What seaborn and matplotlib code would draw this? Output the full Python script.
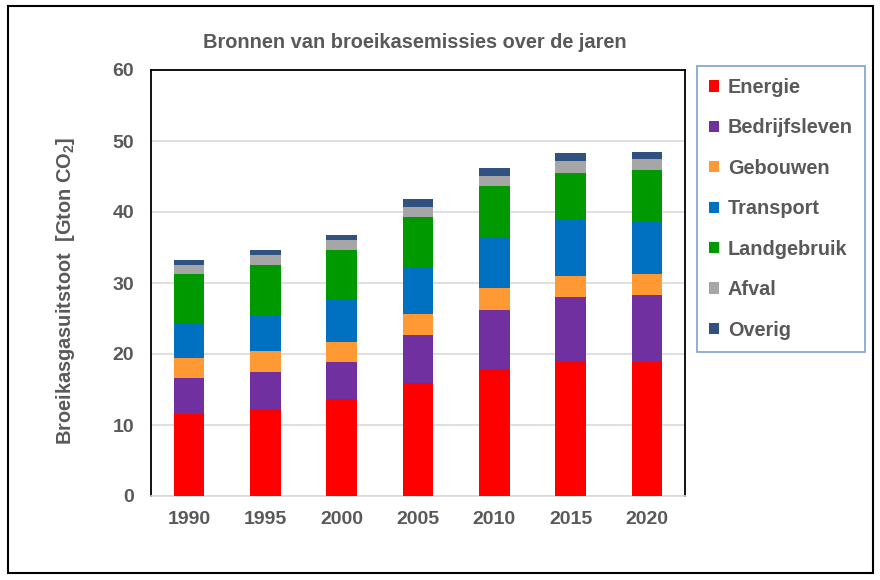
import numpy as np
import matplotlib
matplotlib.use("Agg")
import matplotlib.pyplot as plt
import seaborn as sns
import pandas as pd
from matplotlib.patches import Patch, Rectangle

# data (Gton CO2)
years = ["1990", "1995", "2000", "2005", "2010", "2015", "2020"]
sectors = ["Energie", "Bedrijfsleven", "Gebouwen", "Transport", "Landgebruik", "Afval", "Overig"]
energie = [11.6, 12.2, 13.6, 15.9, 17.9, 19.0, 18.9]
bedrijfsleven = [5.0, 5.2, 5.3, 6.8, 8.3, 9.0, 9.4]
gebouwen = [2.8, 3.0, 2.8, 2.9, 3.1, 3.0, 3.0]
transport = [4.8, 5.1, 6.0, 6.6, 7.2, 7.9, 7.3]
landgebruik = [7.0, 7.0, 6.9, 7.1, 7.2, 6.6, 7.3]
afval = [1.4, 1.5, 1.4, 1.4, 1.4, 1.7, 1.6]
overig = [0.6, 0.7, 0.7, 1.1, 1.1, 1.1, 1.0]

colors = ["#FF0000", "#7030A0", "#FF9933", "#0070C0", "#009900", "#A6A6A6", "#2F5281"]
text_col = "#595959"

sns.set_style("white")
plt.rcParams['font.family'] = ['Liberation Sans', 'DejaVu Sans']
plt.rcParams['mathtext.fontset'] = 'custom'
plt.rcParams['mathtext.bf'] = 'Liberation Sans:bold'
plt.rcParams['mathtext.rm'] = 'Liberation Sans:bold'

df = pd.DataFrame({"jaar": years, "Energie": energie, "Bedrijfsleven": bedrijfsleven,
                   "Gebouwen": gebouwen, "Transport": transport, "Landgebruik": landgebruik,
                   "Afval": afval, "Overig": overig})
cum = df[sectors].cumsum(axis=1)

fig = plt.figure(figsize=(8.8, 5.8), dpi=100)
ax = fig.add_axes([151 / 880, 84 / 580, 534 / 880, 426 / 580])

# stacked bars: draw cumulative totals from top layer down
for name, col in reversed(list(zip(sectors, colors))):
    sns.barplot(x=df["jaar"], y=cum[name], color=col, width=0.4,
                saturation=1, linewidth=0, ax=ax, zorder=3)

ax.set_ylim(0, 60)
ax.set_yticks(range(0, 61, 10))
ax.yaxis.grid(True, color="#D9D9D9", linewidth=1.2, zorder=0)
ax.set_axisbelow(True)
ax.set_xlabel("")
ax.set_ylabel("")
ax.tick_params(axis="y", length=0, pad=12, labelsize=14, labelcolor=text_col)
ax.tick_params(axis="x", length=0, pad=11, labelsize=14, labelcolor=text_col)
for lab in ax.get_xticklabels() + ax.get_yticklabels():
    lab.set_fontweight("bold")
for s in ["left", "top", "right"]:
    ax.spines[s].set_color("black")
    ax.spines[s].set_linewidth(1.3)
ax.spines["bottom"].set_color("#D9D9D9")
ax.spines["bottom"].set_linewidth(1.2)

fig.text(415 / 880, 1 - 43 / 580, "Bronnen van broeikasemissies over de jaren",
         ha="center", va="center", fontsize=14.4, fontweight="bold", color=text_col)
fig.text(66 / 880, 1 - 291 / 580, r"Broeikasgasuitstoot  [Gton CO$_{\mathbf{2}}$]",
         ha="center", va="center", rotation=90, fontsize=14.4, fontweight="bold", color=text_col)

handles = [Patch(facecolor=c, edgecolor="none") for c in colors]
leg = fig.legend(handles, sectors, loc="upper left",
                 bbox_to_anchor=(697 / 880, 1 - 66 / 580), frameon=True,
                 handlelength=0.5, handleheight=0.5, handletextpad=0.45,
                 labelspacing=1.08, borderpad=0.6, borderaxespad=0,
                 fancybox=False, prop={"weight": "bold", "size": 14.3})
leg.get_frame().set_edgecolor("#5B8BC9")
leg.get_frame().set_linewidth(1.2)
for t in leg.get_texts():
    t.set_color(text_col)

fig.patches.append(Rectangle((8 / 880, 7 / 580), 865 / 880, 567 / 580,
                             transform=fig.transFigure, fill=False,
                             edgecolor="black", linewidth=1.5))

fig.savefig("out.png", dpi=100)
